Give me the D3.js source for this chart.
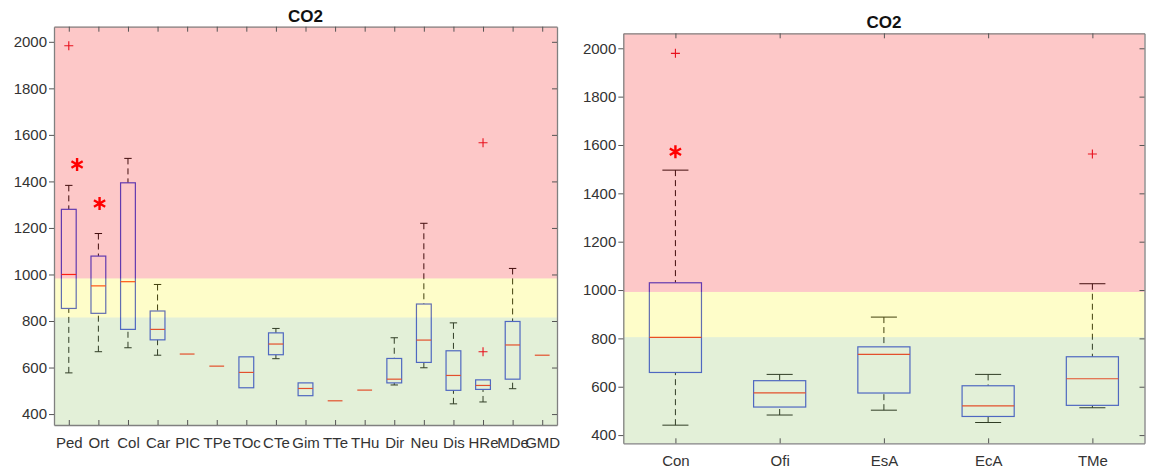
<!DOCTYPE html>
<html>
<head>
<meta charset="utf-8">
<script src="https://cdn.jsdelivr.net/npm/d3@7/dist/d3.min.js"></script>
<style>
  body { margin: 0; background: #fff; }
  svg { font-family: "Liberation Sans", Arial, sans-serif; }
</style>
</head>
<body>
<svg id="chart" width="1155" height="473"></svg>
<script>
// ---- left panel: per-site CO2 (ppm) box stats ----
const leftCategories = ['Ped', 'Ort', 'Col', 'Car', 'PIC', 'TPe', 'TOc', 'CTe', 'Gim',
  'TTe', 'THu', 'Dir', 'Neu', 'Dis', 'HRe', 'MDe', 'GMD'];
const leftLow  = [577, 668, 685, 653, 658, 606, 513, 638, 479, 457, 503, 525, 599, 444, 452, 509, 653];
const leftQ1   = [854, 833, 764, 719, 658, 606, 513, 655, 479, 457, 503, 534, 622, 502, 506, 550, 653];
const leftMed  = [1000, 951, 969, 764, 658, 606, 579, 701, 510, 457, 503, 550, 718, 566, 523, 697, 653];
const leftQ3   = [1280, 1079, 1394, 843, 658, 606, 646, 749, 534, 457, 503, 639, 873, 672, 547, 798, 653];
const leftHigh = [1383, 1176, 1499, 957, 658, 606, 646, 768, 534, 457, 503, 728, 1220, 792, 547, 1026, 653];
const leftOutliers = [{ pos: 1, value: 1983 }, { pos: 15, value: 668 }, { pos: 15, value: 1566 }];
const leftStars = [{ pos: 1.28, value: 1473 }, { pos: 2.04, value: 1305 }];
const leftBands = [815, 983]; // green | yellow | red limits

// ---- right panel: per-use CO2 box stats ----
const rightCategories = ['Con', 'Ofi', 'EsA', 'EcA', 'TMe'];
const rightLow  = [441, 483, 503, 452, 513];
const rightQ1   = [659, 516, 574, 477, 523];
const rightMed  = [804, 575, 734, 521, 633];
const rightQ3   = [1030, 625, 765, 604, 724];
const rightHigh = [1496, 651, 888, 651, 1026];
const rightOutliers = [{ pos: 1, value: 1979 }, { pos: 5, value: 1563 }];
const rightStars = [{ pos: 1, value: 1572 }];
const rightBands = [805, 992];

const yTicks = [400, 600, 800, 1000, 1200, 1400, 1600, 1800, 2000];

const svg = d3.select('#chart');

function buildRows(cats, low, q1, med, q3, high) {
  return cats.map((c, i) => ({ pos: i + 1, low: low[i], q1: q1[i], med: med[i], q3: q3[i], high: high[i] }));
}

function renderPanel(cfg) {
  const n = cfg.categories.length;
  const x = d3.scaleLinear().domain([0.5, n + 0.5]).range([cfg.left, cfg.right]);
  const y = d3.scaleLinear().domain(cfg.yDomain).range([cfg.bottom, cfg.top]);
  const g = svg.append('g');

  // boxes, whiskers, medians
  const boxes = g.append('g')
    .selectAll('g')
    .data(cfg.rows)
    .join('g');

  boxes.each(function (d) {
    const b = d3.select(this);
    const cap = (v) => b.append('line')
      .attr('x1', x(d.pos - 0.125)).attr('x2', x(d.pos + 0.125))
      .attr('y1', y(v)).attr('y2', y(v))
      .attr('stroke', '#111').attr('stroke-width', 1);
    const whisker = (from, to) => b.append('line')
      .attr('x1', x(d.pos)).attr('x2', x(d.pos))
      .attr('y1', y(from)).attr('y2', y(to))
      .attr('stroke', '#111').attr('stroke-width', 1)
      .attr('stroke-dasharray', '6,4');
    if (d.high > d.q3) { whisker(d.high, d.q3); cap(d.high); }
    if (d.low < d.q1) { whisker(d.low, d.q1); cap(d.low); }
    if (d.q3 > d.q1) {
      b.append('rect')
        .attr('x', x(d.pos - 0.25)).attr('width', x(d.pos + 0.25) - x(d.pos - 0.25))
        .attr('y', y(d.q3)).attr('height', y(d.q1) - y(d.q3))
        .attr('fill', 'none').attr('stroke', '#3a4ae0').attr('stroke-width', 1.2);
    }
    b.append('line')
      .attr('x1', x(d.pos - 0.25)).attr('x2', x(d.pos + 0.25))
      .attr('y1', y(d.med)).attr('y2', y(d.med))
      .attr('stroke', '#ff2a1a').attr('stroke-width', 1.2);
  });

  // translucent comfort bands laid over the boxes
  const [lo, hi] = cfg.bands;
  const bandDefs = [
    { from: cfg.yDomain[0], to: lo, fill: 'rgba(143,195,99,0.25)' },
    { from: lo, to: hi, fill: 'rgba(250,246,0,0.21)' },
    { from: hi, to: cfg.yDomain[1], fill: 'rgba(246,0,0,0.216)' }
  ];
  g.append('g')
    .selectAll('rect')
    .data(bandDefs)
    .join('rect')
    .attr('x', cfg.left)
    .attr('width', cfg.right - cfg.left)
    .attr('y', d => y(d.to))
    .attr('height', d => y(d.from) - y(d.to))
    .attr('fill', d => d.fill);

  // axes
  const styleAxis = (sel) => {
    sel.select('.domain').attr('stroke', '#808080').attr('stroke-width', 1.3);
    sel.selectAll('.tick line').attr('stroke', '#555');
    sel.selectAll('.tick text').attr('fill', '#333').style('font-size', '15px');
  };
  const catTicks = d3.range(1, n + 1);

  g.append('g')
    .attr('transform', `translate(0,${cfg.bottom})`)
    .call(d3.axisBottom(x).tickValues(catTicks).tickFormat(i => cfg.categories[i - 1])
      .tickSizeInner(-5).tickSizeOuter(0).tickPadding(12))
    .call(styleAxis)
    .call(sel => sel.selectAll('.tick text').attr('font-family', null));

  g.append('g')
    .attr('transform', `translate(0,${cfg.top})`)
    .call(d3.axisTop(x).tickValues(catTicks).tickFormat('').tickSizeInner(-5).tickSizeOuter(0))
    .call(styleAxis);

  g.append('g')
    .attr('transform', `translate(${cfg.left},0)`)
    .call(d3.axisLeft(y).tickValues(yTicks).tickFormat(d3.format('d'))
      .tickSizeInner(5).tickSizeOuter(0).tickPadding(2))
    .call(styleAxis);

  g.append('g')
    .attr('transform', `translate(${cfg.right},0)`)
    .call(d3.axisRight(y).tickValues(yTicks).tickFormat('').tickSizeInner(-5).tickSizeOuter(0))
    .call(styleAxis);

  g.selectAll('.tick text').attr('font-family', '"Liberation Sans", Arial, sans-serif');

  // outliers (+)
  g.append('g')
    .selectAll('path')
    .data(cfg.outliers)
    .join('path')
    .attr('d', d => {
      const cx = x(d.pos), cy = y(d.value), r = 4.5;
      return `M${cx - r},${cy}H${cx + r}M${cx},${cy - r}V${cy + r}`;
    })
    .attr('stroke', '#e8121e').attr('stroke-width', 1.1).attr('fill', 'none');

  // significance asterisks
  g.append('g')
    .selectAll('path')
    .data(cfg.stars)
    .join('path')
    .attr('d', d => {
      const cx = x(d.pos), cy = y(d.value), r = 6.5;
      const dx = r * Math.cos(Math.PI / 6), dy = r * Math.sin(Math.PI / 6);
      return `M${cx},${cy - r}V${cy + r}` +
        `M${cx - dx},${cy - dy}L${cx + dx},${cy + dy}` +
        `M${cx - dx},${cy + dy}L${cx + dx},${cy - dy}`;
    })
    .attr('stroke', '#ff0000').attr('stroke-width', 2.4).attr('fill', 'none');

  // title
  g.append('text')
    .attr('x', (cfg.left + cfg.right) / 2)
    .attr('y', cfg.titleY)
    .attr('text-anchor', 'middle')
    .attr('font-weight', 'bold')
    .attr('font-size', 17)
    .attr('fill', '#111')
    .text('CO2');
}

renderPanel({
  categories: leftCategories,
  rows: buildRows(leftCategories, leftLow, leftQ1, leftMed, leftQ3, leftHigh),
  outliers: leftOutliers,
  stars: leftStars,
  bands: leftBands,
  yDomain: [353, 2065],
  left: 54, right: 557, top: 26.7, bottom: 425,
  titleY: 21.5
});

renderPanel({
  categories: rightCategories,
  rows: buildRows(rightCategories, rightLow, rightQ1, rightMed, rightQ3, rightHigh),
  outliers: rightOutliers,
  stars: rightStars,
  bands: rightBands,
  yDomain: [366, 2062],
  left: 623.3, right: 1144.5, top: 33.3, bottom: 443.3,
  titleY: 28
});
</script>
</body>
</html>
